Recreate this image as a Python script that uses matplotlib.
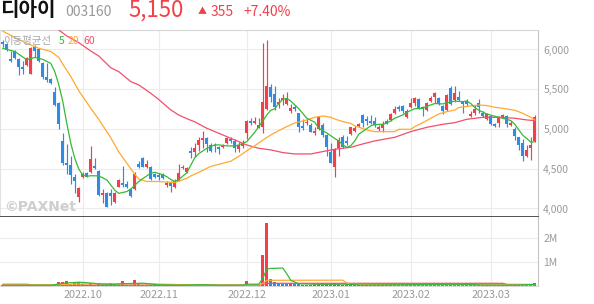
import matplotlib
matplotlib.use("Agg")
import matplotlib.pyplot as plt
import numpy as np

plt.rcParams["font.family"] = ["Noto Sans CJK KR", "DejaVu Sans"]

# daily candles (trading days 2022-09-01 .. 2023-03-17), index 0..133
opens = [6100, 6070, 5885, 5980, 5875, 5785, 5805, 5690, 6035, 6000,
         5825, 5650, 5630, 5470, 5330, 4850, 4575, 4550, 4400, 4150,
         4400, 4450, 4465, 4535, 4470, 4170, 4200, 4190, 4085, 4275,
         4325, 4310, 4240, 4240, 4555, 4635, 4525, 4525, 4430, 4420,
         4415, 4295, 4325, 4265, 4350, 4505, 4465, 4725, 4715, 4800,
         4860, 4885, 4800, 4800, 4770, 4770, 4820, 4870, 4850, 4745,
         4785, 4955, 5105, 5080, 5015, 5020, 5250, 5525, 5435, 5315,
         5365, 5315, 5225, 5275, 5195, 5040, 5070, 5050, 4955, 4995,
         5050, 4925, 4715, 4520, 4755, 4895, 4855, 4940, 4980, 5040,
         5175, 5120, 5105, 5105, 4995, 5010, 5105, 5115, 5205, 5275,
         5290, 5145, 5275, 5330, 5375, 5275, 5240, 5355, 5400, 5385,
         5290, 5240, 5510, 5365, 5405, 5345, 5355, 5165, 5200, 5325,
         5205, 5120, 5165, 5065, 5080, 5145, 5165, 5050, 4995, 4895,
         4820, 4655, 4755, 4855]
highs = [6120, 6085, 5985, 5995, 5890, 5860, 5910, 6035, 6055, 6015,
         5845, 5825, 5645, 5525, 5345, 4945, 4805, 4660, 4435, 4275,
         4465, 4465, 4780, 4630, 4485, 4240, 4210, 4240, 4210, 4365,
         4535, 4340, 4255, 4465, 4600, 4645, 4610, 4535, 4450, 4450,
         4445, 4350, 4340, 4365, 4555, 4550, 4525, 4770, 4820, 4895,
         4975, 4895, 4820, 4820, 4780, 4805, 4895, 4895, 4870, 4840,
         4860, 5115, 5135, 5145, 5135, 6085, 6120, 5565, 5540, 5395,
         5435, 5460, 5315, 5300, 5205, 5120, 5120, 5070, 5030, 5155,
         5070, 4940, 4820, 4755, 4895, 4925, 4910, 5030, 5040, 5080,
         5190, 5165, 5175, 5145, 5050, 5105, 5120, 5200, 5290, 5300,
         5300, 5250, 5385, 5405, 5385, 5290, 5345, 5415, 5470, 5405,
         5300, 5440, 5540, 5540, 5480, 5355, 5375, 5220, 5300, 5375,
         5220, 5200, 5175, 5080, 5165, 5190, 5175, 5105, 5020, 4905,
         4870, 4800, 4905, 5170]
lows = [6035, 5985, 5845, 5875, 5680, 5690, 5790, 5690, 5910, 5845,
        5625, 5595, 5565, 5290, 5005, 4550, 4435, 4310, 4200, 4085,
        4380, 4400, 4450, 4500, 4160, 4065, 4025, 4045, 4075, 4265,
        4275, 4255, 4150, 4235, 4505, 4520, 4505, 4360, 4380, 4360,
        4365, 4275, 4210, 4255, 4340, 4495, 4445, 4630, 4650, 4725,
        4755, 4715, 4705, 4715, 4680, 4765, 4810, 4820, 4715, 4705,
        4755, 4870, 5050, 5065, 5010, 4945, 5240, 5345, 5245, 5270,
        5300, 5300, 5205, 5220, 4965, 4990, 5050, 4960, 4925, 4990,
        4905, 4660, 4570, 4400, 4660, 4755, 4800, 4925, 4965, 5020,
        5030, 5050, 5065, 5030, 4980, 4965, 5065, 5105, 5190, 5220,
        5200, 5135, 5260, 5290, 5250, 5165, 5220, 5345, 5330, 5300,
        5190, 5230, 5300, 5345, 5355, 5195, 5290, 5155, 5175, 5200,
        5145, 5115, 5050, 5020, 5020, 5135, 5020, 5040, 4860, 4735,
        4600, 4645, 4610, 4840]
closes = [6075, 5995, 5860, 5890, 5785, 5760, 5890, 6015, 5985, 5860,
          5660, 5615, 5575, 5300, 5065, 4575, 4550, 4420, 4340, 4255,
          4435, 4400, 4620, 4515, 4170, 4200, 4025, 4160, 4200, 4360,
          4295, 4275, 4160, 4430, 4525, 4525, 4555, 4365, 4400, 4390,
          4380, 4325, 4285, 4350, 4450, 4525, 4515, 4695, 4765, 4860,
          4885, 4810, 4725, 4780, 4745, 4790, 4885, 4850, 4755, 4800,
          4805, 5100, 5080, 5105, 5045, 5345, 5540, 5405, 5280, 5345,
          5395, 5385, 5260, 5250, 5020, 5010, 5090, 4965, 4980, 5145,
          4925, 4770, 4575, 4745, 4860, 4770, 4820, 5020, 5010, 5065,
          5080, 5095, 5080, 5050, 5020, 5065, 5080, 5190, 5250, 5250,
          5230, 5230, 5325, 5385, 5260, 5250, 5325, 5395, 5450, 5315,
          5220, 5430, 5315, 5455, 5365, 5315, 5315, 5190, 5250, 5275,
          5165, 5190, 5065, 5040, 5145, 5170, 5065, 5080, 4915, 4800,
          4655, 4730, 4795, 5150]
volumes = [60, 50, 45, 40, 55, 40, 50, 85, 60, 45,
           60, 50, 40, 90, 180, 185, 230, 110, 140, 180,
           80, 50, 140, 60, 110, 60, 55, 140, 60, 70,
           230, 60, 50, 250, 100, 70, 50, 55, 45, 40,
           35, 45, 40, 50, 80, 50, 55, 70, 60, 75,
           80, 50, 45, 40, 35, 40, 50, 40, 45, 40,
           45, 220, 60, 50, 55, 1300, 2640, 300, 180, 120,
           110, 100, 120, 90, 80, 60, 50, 60, 100, 110,
           90, 110, 100, 120, 90, 70, 60, 80, 50, 45,
           50, 45, 40, 40, 45, 50, 40, 100, 80, 50,
           45, 55, 100, 70, 60, 50, 60, 50, 70, 50,
           45, 100, 110, 100, 60, 50, 100, 50, 55, 50,
           45, 40, 50, 40, 55, 40, 45, 40, 60, 100,
           80, 50, 70, 120]  # thousand shares

# moving averages (index, value)
ma5_idx = [0, 3, 6, 8, 10, 12, 13, 14, 15, 16, 17, 18, 19, 20, 21, 22, 24, 26, 28, 29,
           31, 32, 34, 35, 37, 38, 40, 41, 42, 43, 44, 46, 48, 49, 51, 53, 54, 56, 58, 59,
           61, 62, 63, 65, 66, 67, 68, 69, 70, 71, 72, 74, 76, 78, 79, 81, 83, 84, 85, 86,
           87, 88, 89, 90, 92, 93, 95, 96, 98, 100, 101, 103, 105, 106, 108, 110, 111, 113, 115, 116,
           117, 118, 119, 121, 123, 124, 126, 127, 128, 129, 130, 131, 132, 133]
ma5_val = [6015, 5975, 5870, 5900, 5875, 5825, 5720, 5555, 5345, 5070, 4820, 4630, 4495, 4420, 4405, 4412, 4410, 4360, 4230, 4190,
           4213, 4245, 4340, 4375, 4445, 4455, 4425, 4400, 4365, 4340, 4365, 4450, 4640, 4690, 4757, 4800, 4800, 4787, 4787, 4799,
           4841, 4900, 4960, 5100, 5177, 5235, 5255, 5320, 5375, 5385, 5350, 5255, 5135, 5085, 5009, 4950, 4880, 4850, 4800, 4770,
           4790, 4850, 4935, 4970, 5040, 5055, 5060, 5072, 5135, 5177, 5210, 5255, 5260, 5285, 5320, 5315, 5330, 5350, 5344, 5352,
           5320, 5270, 5235, 5189, 5160, 5147, 5122, 5105, 5060, 4990, 4920, 4880, 4835, 4840]
ma20_idx = [0, 3, 6, 9, 12, 14, 15, 17, 19, 22, 24, 27, 29, 31, 33, 34, 36, 39, 43, 46,
            47, 49, 52, 54, 57, 58, 60, 62, 63, 65, 67, 69, 71, 73, 76, 78, 80, 82, 83, 85,
            87, 88, 90, 91, 93, 95, 98, 99, 102, 103, 105, 107, 109, 111, 113, 114, 117, 119, 121, 123,
            125, 128, 130, 132, 133]
ma20_val = [6230, 6150, 6077, 6015, 5975, 5900, 5815, 5660, 5480, 5260, 5120, 4890, 4710, 4570, 4430, 4370, 4340, 4339, 4326, 4380,
            4410, 4455, 4530, 4556, 4595, 4625, 4690, 4760, 4790, 4860, 4925, 4980, 5030, 5075, 5114, 5147, 5164, 5147, 5125, 5093,
            5070, 5040, 5005, 4988, 4967, 4967, 4967, 4996, 4996, 5030, 5080, 5135, 5189, 5218, 5239, 5270, 5290, 5302, 5294, 5273,
            5260, 5235, 5197, 5147, 5114]
ma60_idx = [14, 16, 19, 22, 24, 27, 29, 32, 34, 37, 39, 42, 44, 46, 48, 51, 54, 58, 61, 64,
            67, 70, 73, 77, 80, 83, 87, 90, 93, 98, 102, 106, 110, 113, 116, 120, 124, 128, 131, 133]
ma60_val = [6245, 6170, 6086, 5980, 5918, 5770, 5721, 5596, 5554, 5449, 5370, 5240, 5175, 5130, 5090, 5009, 4946, 4862, 4799, 4757,
            4737, 4703, 4686, 4686, 4716, 4745, 4770, 4812, 4850, 4896, 4967, 5021, 5059, 5080, 5122, 5147, 5147, 5135, 5114, 5105]

vma5_idx = [0, 12, 13, 15, 17, 19, 21, 23, 25, 28, 30, 33, 35, 37, 39, 44, 50, 55, 60, 61,
            64, 65, 66, 67, 70, 71, 72, 74, 80, 85, 90, 97, 103, 112, 116, 120, 128, 133]
vma5_val = [40, 45, 70, 120, 150, 170, 150, 120, 90, 85, 110, 120, 130, 100, 60, 50, 65, 45, 50, 85,
            90, 330, 720, 745, 760, 520, 250, 100, 85, 90, 50, 60, 70, 85, 80, 50, 50, 80]
vma20_idx = [0, 13, 16, 19, 25, 30, 35, 38, 42, 47, 55, 64, 65, 66, 85, 86, 87, 95, 105, 115, 125, 133]
vma20_val = [60, 60, 80, 95, 105, 100, 105, 95, 80, 65, 55, 55, 120, 250, 255, 130, 80, 70, 65, 65, 60, 65]
vma60_idx = [0, 6, 8, 20, 40, 55, 64, 65, 66, 125, 126, 133]
vma60_val = [85, 85, 50, 45, 48, 45, 45, 70, 125, 125, 80, 75]

month_idx = [20, 39, 61, 82, 102, 122]
month_labels = ["2022.10", "2022.11", "2022.12", "2023.01", "2023.02", "2023.03"]
price_ticks = [4000, 4500, 5000, 5500, 6000]
vol_ticks = [1000, 2000]
vol_tick_labels = ["1M", "2M"]

UP = "#f2404a"
DOWN = "#2f8be6"
C_MA5 = "#36b936"
C_MA20 = "#ffa92e"
C_MA60 = "#f54d6b"
GRID = "#ececec"
LABEL = "#9a9a9a"

W, H = 594, 304
fig = plt.figure(figsize=(W / 100, H / 100), dpi=100)


def px_box(left, top, right, bottom):
    return [left / W, 1 - bottom / H, (right - left) / W, (bottom - top) / H]


def fx(x):
    return x / W


def fy(y):
    return 1 - y / H


ax = fig.add_axes(px_box(0, 30, 538, 217))
axv = fig.add_axes(px_box(0, 217, 538, 286.3))

o = np.array(opens, float)
h = np.array(highs, float)
l = np.array(lows, float)
c = np.array(closes, float)
v = np.array(volumes, float)
idx = np.arange(len(o))

up = c >= o
cols = np.where(up, UP, DOWN)

# candles
ax.vlines(idx, l, h, colors=cols, lw=0.85, zorder=3)
body_lo = np.minimum(o, c)
body_h = np.maximum(np.abs(c - o), 12)
ax.bar(idx, body_h, bottom=body_lo, width=0.68, color=cols, lw=0, zorder=4)

ax.plot(ma60_idx, ma60_val, color=C_MA60, lw=0.9, zorder=5)
ax.plot(ma20_idx, ma20_val, color=C_MA20, lw=0.9, zorder=5)
ax.plot(ma5_idx, ma5_val, color=C_MA5, lw=0.9, zorder=6)

ax.set_xlim(-0.7, 133.8)
ax.set_ylim(3893, 6245)
ax.set_xticks(month_idx)
ax.set_yticks(price_ticks)
ax.yaxis.tick_right()
ax.set_yticklabels([f"{p:,}" for p in price_ticks])
ax.tick_params(axis="y", length=0, pad=3.8, labelsize=7.5, labelcolor=LABEL)
ax.tick_params(axis="x", length=0, labelbottom=False)
ax.grid(True, color=GRID, lw=0.8)
ax.set_axisbelow(True)
for side, col in [("top", "#d6d6d6"), ("right", "#c4c4c4"), ("left", "#e2e2e2")]:
    ax.spines[side].set_color(col)
    ax.spines[side].set_linewidth(0.8)
ax.spines["bottom"].set_color("#333333")
ax.spines["bottom"].set_linewidth(1.2)

# volume panel: bar colour follows change of volume vs previous day
vprev = np.concatenate([[0], v[:-1]])
vcols = np.where(v >= vprev, UP, DOWN)
axv.bar(idx, v, width=0.68, color=vcols, lw=0, zorder=3)
axv.plot(vma60_idx, vma60_val, color=C_MA60, lw=0.9, zorder=4)
axv.plot(vma20_idx, vma20_val, color=C_MA20, lw=0.9, zorder=5)
axv.plot(vma5_idx, vma5_val, color=C_MA5, lw=0.9, zorder=6)

axv.set_xlim(-0.7, 133.8)
axv.set_ylim(0, 2887)
axv.set_xticks(month_idx)
axv.set_xticklabels(month_labels)
axv.set_yticks(vol_ticks)
axv.set_yticklabels(vol_tick_labels)
axv.yaxis.tick_right()
axv.tick_params(axis="y", length=0, pad=3.8, labelsize=7.5, labelcolor=LABEL)
axv.tick_params(axis="x", length=0, pad=3, labelsize=7.8, labelcolor=LABEL)
axv.grid(True, color=GRID, lw=0.8)
axv.set_axisbelow(True)
axv.spines["top"].set_visible(False)
axv.spines["left"].set_visible(False)
axv.spines["right"].set_color("#c4c4c4")
axv.spines["right"].set_linewidth(0.8)
axv.spines["bottom"].set_color("#d6d6d6")
axv.spines["bottom"].set_linewidth(0.8)

# header
fig.text(fx(0), fy(10), "디아이", fontsize=14.5, fontweight="bold", color="#111111",
         va="center", ha="left")
fig.text(fx(65), fy(12), "003160", fontsize=10, color="#999999", va="center", ha="left")
fig.text(fx(128), fy(10), "5,150", fontsize=16, color=UP, va="center", ha="left")
fig.text(fx(198), fy(12), "▲", fontsize=6.5, color=UP, va="center", ha="left")
fig.text(fx(211), fy(12), "355", fontsize=10, color=UP, va="center", ha="left")
fig.text(fx(243), fy(12), "+7.40%", fontsize=10, color=UP, va="center", ha="left")

# MA legend inside the chart
fig.text(fx(3), fy(41), "이동평균선", fontsize=7.5, color="#a8a8a8", va="center", ha="left")
fig.text(fx(59), fy(41), "5", fontsize=7.5, color=C_MA5, va="center", ha="left")
fig.text(fx(68), fy(41), "20", fontsize=7.5, color=C_MA20, va="center", ha="left")
fig.text(fx(83), fy(41), "60", fontsize=7.5, color=C_MA60, va="center", ha="left")

# watermark
fig.text(fx(4), fy(207), "©PAXNet", fontsize=10, fontweight="bold", color="#cfcfcf",
         va="center", ha="left", family="DejaVu Sans")

fig.savefig("out.png", dpi=100)
